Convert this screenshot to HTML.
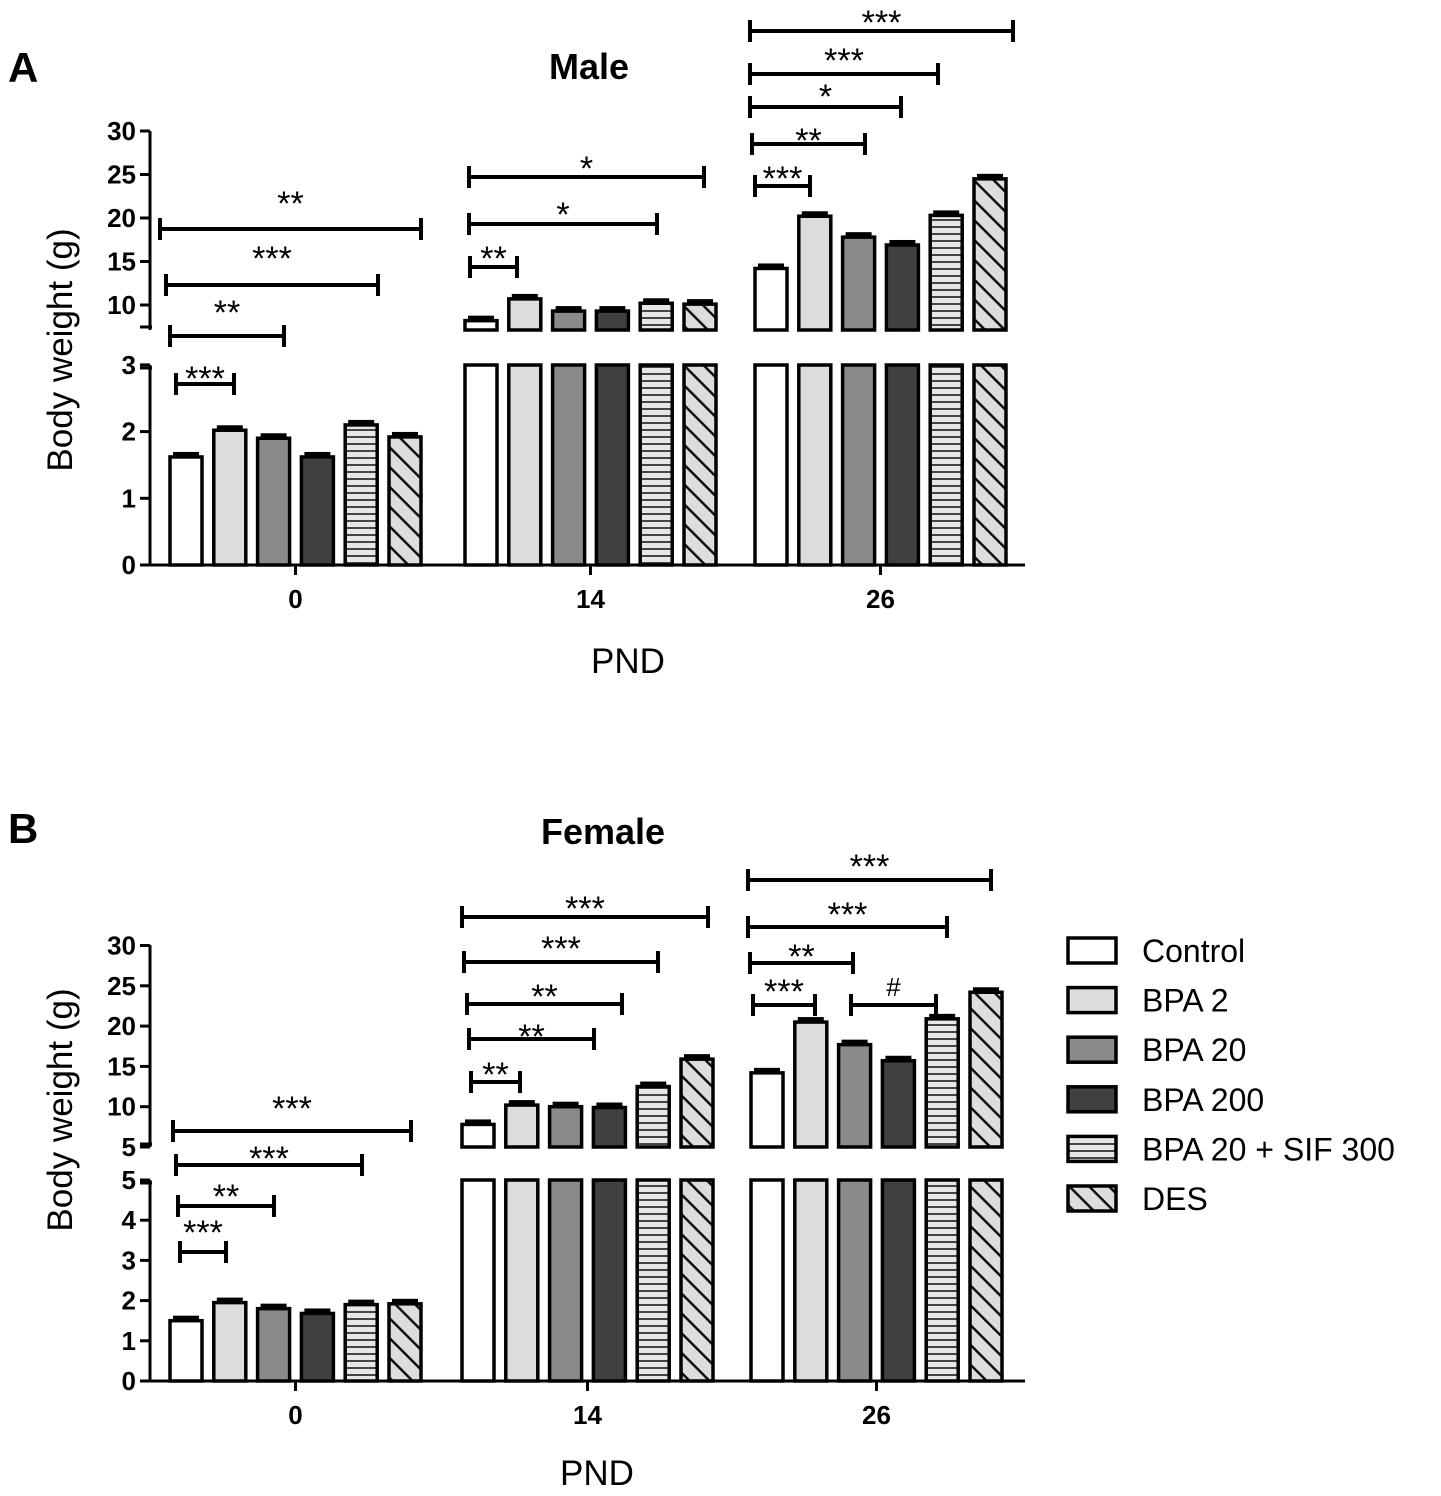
<!DOCTYPE html>
<html><head><meta charset="utf-8">
<style>
body{margin:0;background:#fff;}
svg{display:block;font-family:"Liberation Sans",Arial,sans-serif;}
</style></head>
<body>
<svg id="chart" width="1441" height="1496" viewBox="0 0 1441 1496" xmlns="http://www.w3.org/2000/svg">
<defs>
<pattern id="hstripe" patternUnits="userSpaceOnUse" width="10" height="7"><rect width="10" height="7" fill="#e6e6e6"/><line x1="0" y1="3" x2="10" y2="3" stroke="#333" stroke-width="1.8"/></pattern>
<pattern id="dstripe" patternUnits="userSpaceOnUse" width="14" height="14" patternTransform="rotate(-45)"><rect width="14" height="14" fill="#ddd"/><line x1="0" y1="0" x2="0" y2="14" stroke="#111" stroke-width="5"/></pattern>
</defs>
</svg>
<script>
const groups = ["0","14","26"];
const seriesNames = ["Control","BPA 2","BPA 20","BPA 200","BPA 20 + SIF 300","DES"];
const maleValues = [[1.62,2.02,1.9,1.62,2.1,1.92],[8.2,10.7,9.3,9.3,10.2,10.1],[14.2,20.2,17.8,16.9,20.3,24.5]];
const femaleValues = [[1.5,1.95,1.8,1.68,1.9,1.92],[7.8,10.2,10.0,9.9,12.5,15.9],[14.2,20.5,17.7,15.7,20.9,24.2]];
const maleUpperTicks = [10,15,20,25,30];
const maleLowerTicks = [0,1,2,3];
const femaleUpperTicks = [5,10,15,20,25,30];
const femaleLowerTicks = [0,1,2,3,4,5];
const fills = ["#fff","#dcdcdc","#8a8a8a","#404040","url(#hstripe)","url(#dstripe)"];
const NS="http://www.w3.org/2000/svg";
const svg=document.getElementById('chart');
function mk(tag,attrs,parent,text){const e=document.createElementNS(NS,tag);for(const k in attrs)e.setAttribute(k,attrs[k]);if(text!==undefined)e.textContent=text;(parent||svg).appendChild(e);return e;}

function panel(cfg){
  const g=mk('g',{});
  
  
  const up=v=>cfg.uRef-(v-cfg.uRefV)*cfg.uK;
  const lo=v=>cfg.y0-v*cfg.lK;
  const xb=(gi,i)=>cfg.gx[gi]+i*43.8;
  const bw=32;
  cfg.vals.forEach((row,gi)=>row.forEach((v,i)=>{
    const x=xb(gi,i)-bw/2;
    let topY;
    if(v<=cfg.lMax){
      topY=lo(v);
      const r=mk('rect',{x:x,y:topY,width:bw,height:cfg.y0-topY,fill:fills[i],stroke:'#000','stroke-width':3.5},g);
      
      
    } else {
      const r1=mk('rect',{x:x,y:cfg.lTop,width:bw,height:cfg.y0-cfg.lTop,fill:fills[i],stroke:'#000','stroke-width':3.5},g);
      
      
      topY=up(v);
      const r2=mk('rect',{x:x,y:topY,width:bw,height:cfg.uBot-topY,fill:fills[i],stroke:'#000','stroke-width':3.5},g);
      
      
    }
    const eb=mk('rect',{x:x+3,y:topY-5,width:bw-6,height:6,fill:'#000'},g);
    
    
  }));
  const ax=cfg.axX;
  mk('line',{x1:ax,y1:cfg.uTopY,x2:ax,y2:cfg.uBot,stroke:'#000','stroke-width':3},g);
  mk('line',{x1:ax,y1:cfg.lTop,x2:ax,y2:cfg.y0,stroke:'#000','stroke-width':3},g);
  mk('path',{d:`M${ax-10} ${cfg.uBot-3} L${ax+2} ${cfg.uBot-3} M${ax-10} ${cfg.lTop+3} L${ax+2} ${cfg.lTop+3}`,stroke:'#000','stroke-width':3,fill:'none'},g);
  mk('line',{x1:ax,y1:cfg.y0,x2:1025,y2:cfg.y0,stroke:'#000','stroke-width':3},g);
  cfg.uTicks.forEach(t=>{const y=up(t);mk('line',{x1:ax-10,y1:y,x2:ax,y2:y,stroke:'#000','stroke-width':3},g);
    const tx=mk('text',{x:ax-14,y:y+9,'text-anchor':'end','font-size':26,'font-weight':'bold'},g,t);
    });
  cfg.lTicks.forEach(t=>{const y=lo(t);mk('line',{x1:ax-10,y1:y,x2:ax,y2:y,stroke:'#000','stroke-width':3},g);
    const tx=mk('text',{x:ax-14,y:y+9,'text-anchor':'end','font-size':26,'font-weight':'bold'},g,t);
    });
  groups.forEach((n,gi)=>{const cx=xb(gi,2.5);
    mk('line',{x1:cx,y1:cfg.y0,x2:cx,y2:cfg.y0+10,stroke:'#000','stroke-width':3},g);
    const tx=mk('text',{x:cx,y:cfg.y0+43,'text-anchor':'middle','font-size':26,'font-weight':'bold'},g,n);
    });
  cfg.br.forEach(b=>{const [x1,x2,y,lab,ly]=b;
    const p=mk('path',{d:`M${x1} ${y} L${x2} ${y} M${x1} ${y-11} L${x1} ${y+11} M${x2} ${y-11} L${x2} ${y+11}`,stroke:'#000','stroke-width':4,fill:'none'},g);
    
    const isHash=lab==='#';
    const t=mk('text',{x:(x1+x2)/2,y:isHash?ly+20:ly+30,'text-anchor':'middle','font-size':isHash?26:34},g,lab);
    });
  const L=mk('text',{x:cfg.letX,y:cfg.letY,'font-size':42,'font-weight':'bold'},g,cfg.letter);
  
  const T=mk('text',{x:cfg.titX,y:cfg.titY,'text-anchor':'middle','font-size':36,'font-weight':'bold'},g,cfg.title);
  
  const Y=mk('text',{x:0,y:0,'text-anchor':'middle','font-size':35,transform:`translate(72 ${cfg.ylabY}) rotate(-90)`},g,'Body weight (g)');
  
  const X=mk('text',{x:cfg.pndX,y:cfg.pndY,'text-anchor':'middle','font-size':35},g,'PND');
  
}

panel({name:'male-panel',key:'male',vals:maleValues,uTicks:maleUpperTicks,lTicks:maleLowerTicks,
  uRef:305,uRefV:10,uK:8.7,uBot:330,uTopY:131,y0:565,lK:66.7,lTop:365,lMax:3,axX:150,
  gx:[186,481,771],letter:'A',letX:8,letY:82,title:'Male',titX:589,titY:79,ylabY:350,pndX:628,pndY:673,
  br:[[160,421,229,'**',185],[166,378,285,'***',240],[170,284,336,'**',294],[176,234,384,'***',360],
      [469,704,177,'*',150],[469,657,224,'*',196],[470,517,267,'**',240],
      [750,1013,31,'***',4],[750,938,74,'***',42],[750,901,107,'*',78],[752,865,144,'**',122],[755,810,186,'***',160]]});
panel({name:'female-panel',key:'female',vals:femaleValues,uTicks:femaleUpperTicks,lTicks:femaleLowerTicks,
  uRef:1147,uRefV:5,uK:8.06,uBot:1147,uTopY:945,y0:1381,lK:40.2,lTop:1180,lMax:5,axX:150,
  gx:[186,478,767],letter:'B',letX:8,letY:843,title:'Female',titX:603,titY:844,ylabY:1110,pndX:597,pndY:1485,
  br:[[173,411,1131,'***',1090],[176,362,1165,'***',1140],[178,274,1206,'**',1178],[180,226,1252,'***',1214],
      [462,708,917,'***',890],[464,658,962,'***',930],[467,622,1004,'**',978],[469,594,1039,'**',1018],[471,520,1082,'**',1056],
      [748,991,880,'***',848],[748,947,927,'***',896],[750,853,963,'**',938],[753,815,1005,'***',973],[851,936,1005,'#',976]]});

const lg=mk('g',{});


seriesNames.forEach((n,i)=>{const y=938+i*49.6;
  const r=mk('rect',{x:1068,y:y,width:48,height:25,fill:fills[i],stroke:'#000','stroke-width':3.5},lg);
  
  const t=mk('text',{x:1142,y:y+24,'font-size':32},lg,n);
  });
</script>
</body></html>
